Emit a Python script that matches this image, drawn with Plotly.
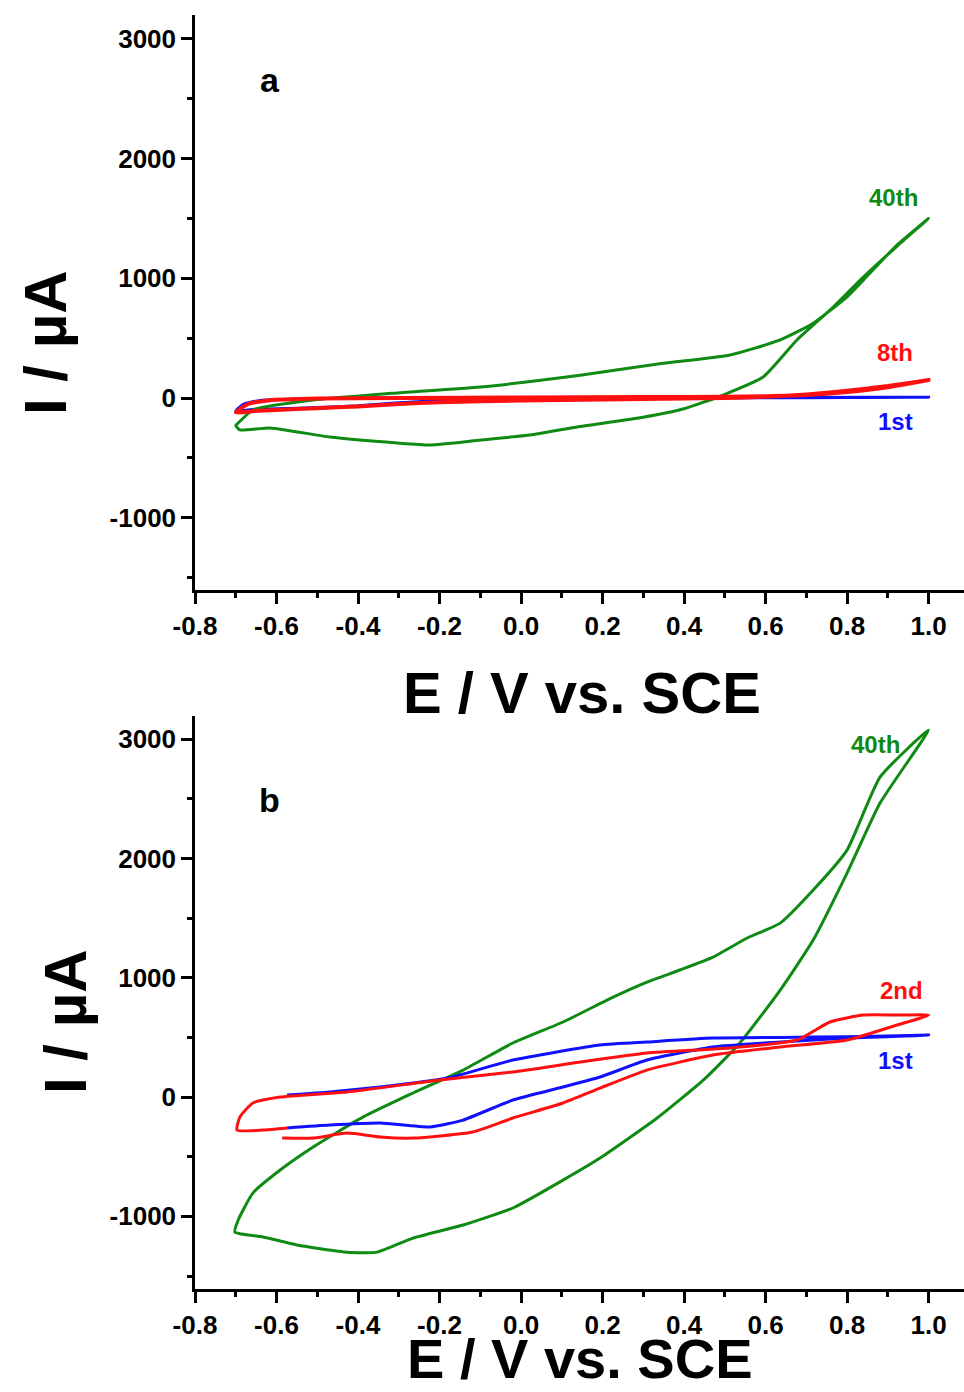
import plotly.graph_objects as go

# ---------------- data (E in V vs SCE, I in uA) ----------------
# Panel a
a1_E = [-0.70, -0.66, -0.60, -0.50, -0.40, -0.30, -0.20, 0.00, 0.30, 0.60, 0.80, 1.00,
        0.70, 0.40, 0.10, -0.20, -0.40, -0.55, -0.64, -0.68, -0.70]
a1_I = [-110, -95, -90, -80, -65, -40, -20, -8, -2, 2, 4, 6,
        5, 4, 3, 2, 0, -10, -20, -50, -110]

a8_E = [-0.70, -0.66, -0.60, -0.50, -0.40, -0.30, -0.20, 0.00, 0.20, 0.40, 0.50, 0.60, 0.70, 0.80, 0.90, 1.00,
        0.90, 0.80, 0.70, 0.60, 0.50, 0.30, 0.00, -0.30, -0.50, -0.62, -0.67, -0.70]
a8_I = [-120, -110, -100, -85, -70, -50, -35, -20, -12, -5, 0, 10, 30, 60, 100, 150,
        90, 50, 25, 15, 10, 8, 5, 0, -5, -20, -50, -120]

a40_E = [-0.70, -0.69, -0.616, -0.469, -0.304, -0.223, -0.10, 0.022, 0.137, 0.30, 0.40, 0.496, 0.594, 0.677,
         0.766, 0.84, 0.923, 1.00,
         0.923, 0.84, 0.80, 0.717, 0.636, 0.513, 0.349, 0.145, -0.10, -0.304, -0.51, -0.658, -0.694, -0.70]
a40_I = [-230, -267, -250, -326, -376, -393, -351, -309, -242, -160, -90, 25, 175, 485,
         760, 1010, 1270, 1500,
         1280, 985, 845, 625, 485, 360, 290, 190, 92, 42, -17, -100, -209, -230]

# Panel b
b1_E = [-0.574, -0.469, -0.346, -0.223, -0.142, -0.02, 0.103, 0.194, 0.309, 0.471, 0.636, 0.80, 1.00,
        0.80, 0.636, 0.471, 0.309, 0.194, -0.02, -0.18, -0.346, -0.469, -0.574]
b1_I = [-260, -235, -218, -251, -193, -25, 84, 168, 310, 419, 461, 494, 520,
        505, 500, 494, 461, 436, 310, 159, 84, 42, 17]

b2_E = [-0.586, -0.51, -0.427, -0.346, -0.265, -0.118, -0.02, 0.103, 0.194, 0.309, 0.471, 0.636, 0.80, 0.923, 1.00,
        0.923, 0.84, 0.758, 0.677, 0.513, 0.309, 0.145, -0.02, -0.199, -0.427, -0.591, -0.658, -0.69, -0.697,
        -0.633, -0.574]
b2_I = [-344, -344, -302, -335, -344, -293, -176, -50, 75, 226, 352, 419, 478, 604, 687,
        687, 687, 629, 478, 411, 369, 293, 210, 143, 42, 0, -50, -168, -277,
        -277, -260]

b40_E = [-0.702, -0.633, -0.55, -0.427, -0.353, -0.265, -0.142, -0.02, 0.103, 0.194, 0.334, 0.45, 0.537, 0.636,
         0.717, 0.80, 0.881, 1.00,
         0.881, 0.80, 0.717, 0.636, 0.555, 0.471, 0.39, 0.309, 0.226, 0.103, -0.02, -0.142, -0.265, -0.388,
         -0.51, -0.591, -0.658, -0.694, -0.702]
b40_I = [-1132, -1173, -1240, -1300, -1300, -1182, -1073, -930, -696, -511, -176, 150, 453, 897,
         1316, 1877, 2464, 3076,
         2682, 2070, 1735, 1458, 1333, 1173, 1065, 964, 838, 629, 453, 226, 34, -168,
         -419, -612, -805, -1031, -1132]

x_ticks = [-0.8, -0.6, -0.4, -0.2, 0.0, 0.2, 0.4, 0.6, 0.8, 1.0]
x_ticklabels = ["-0.8", "-0.6", "-0.4", "-0.2", "0.0", "0.2", "0.4", "0.6", "0.8", "1.0"]
y_ticks = [-1000, 0, 1000, 2000, 3000]
y_ticklabels = ["-1000", "0", "1000", "2000", "3000"]

GREEN = "#0f8a12"
RED = "#ff1010"
BLUE = "#1010ff"
FONT = "Arial, Liberation Sans, sans-serif"

W, H = 964, 1392

fig = go.Figure()

def add(E, I, color, xa, ya, width=3):
    fig.add_trace(go.Scatter(x=E, y=I, mode="lines",
                             line=dict(color=color, width=width, shape="spline", smoothing=0.5),
                             xaxis=xa, yaxis=ya, showlegend=False, hoverinfo="skip"))

# panel a
add(a1_E, a1_I, BLUE, "x", "y", 3)
add(a40_E, a40_I, GREEN, "x", "y", 3)
add(a8_E, a8_I, RED, "x", "y", 4)
# panel b
add(b40_E, b40_I, GREEN, "x2", "y2", 3)
add(b1_E, b1_I, BLUE, "x2", "y2", 3)
add(b2_E, b2_I, RED, "x2", "y2", 3)

tickfont = dict(family=FONT, size=26, color="black", weight="bold")

def xaxis(dom_anchor):
    return dict(domain=[195 / W, 1.0], range=[-0.8, 1.087], anchor=dom_anchor, automargin=False,
                tickmode="array", tickvals=x_ticks, ticktext=x_ticklabels,
                ticks="outside", ticklen=11, tickwidth=2.5, tickcolor="black",
                minor=dict(dtick=0.1, tick0=-0.8, ticks="outside", ticklen=5, tickwidth=2.5, tickcolor="black"),
                showline=True, linecolor="black", linewidth=2.5, showgrid=False, zeroline=False,
                tickfont=tickfont, fixedrange=True)

def yaxis(dom, rng, anchor):
    return dict(domain=dom, range=rng, anchor=anchor, automargin=False,
                tickmode="array", tickvals=y_ticks, ticktext=y_ticklabels,
                ticks="outside", ticklen=11, tickwidth=2.5, tickcolor="black",
                minor=dict(dtick=500, tick0=-1500, ticks="outside", ticklen=5, tickwidth=2.5, tickcolor="black"),
                showline=True, linecolor="black", linewidth=2.5, showgrid=False, zeroline=False,
                tickfont=tickfont, fixedrange=True)

fig.update_layout(
    width=W, height=H,
    margin=dict(l=0, r=0, t=0, b=0, autoexpand=False),
    paper_bgcolor="white", plot_bgcolor="white",
    xaxis=xaxis("y"),
    yaxis=yaxis([1 - 590 / H, 1 - 15 / H], [-1604, 3200], "x"),
    xaxis2=xaxis("y2"),
    yaxis2=yaxis([1 - 1289 / H, 1 - 716 / H], [-1609, 3194], "x2"),
)

ann = []
def lab(text, x, y, color, size, xref, yref):
    ann.append(dict(text=text, x=x, y=y, xref=xref, yref=yref, showarrow=False,
                    font=dict(family=FONT, size=size, color=color, weight="bold"),
                    xanchor="center", yanchor="middle"))

lab("40th", 0.913, 1679, GREEN, 24, "x", "y")
lab("8th", 0.918, 384, RED, 24, "x", "y")
lab("1st", 0.920, -192, BLUE, 24, "x", "y")
lab("a", -0.616, 2657, "black", 34, "x", "y")
lab("40th", 0.869, 2959, GREEN, 24, "x2", "y2")
lab("2nd", 0.933, 889, RED, 24, "x2", "y2")
lab("1st", 0.918, 310, BLUE, 24, "x2", "y2")
lab("b", -0.616, 2490, "black", 34, "x2", "y2")

# axis titles
def title(text, px, py, size, angle=0, yanchor="middle"):
    ann.append(dict(text=text, x=px / W, y=1 - py / H, xref="paper", yref="paper", showarrow=False,
                    textangle=angle, font=dict(family=FONT, size=size, color="black", weight="bold"),
                    xanchor="center", yanchor=yanchor))

title("E / V vs. SCE", 582, 692, 58)
title("E / V vs. SCE", 580, H, 56, yanchor="bottom")
title("I / µA", 45, 343, 60, -90)
title("I / µA", 65, 1022, 60, -90)

fig.update_layout(annotations=ann)

fig.write_html("out.html", config={"displayModeBar": False},
               post_script="document.body.style.margin='0';document.body.style.padding='0';")
